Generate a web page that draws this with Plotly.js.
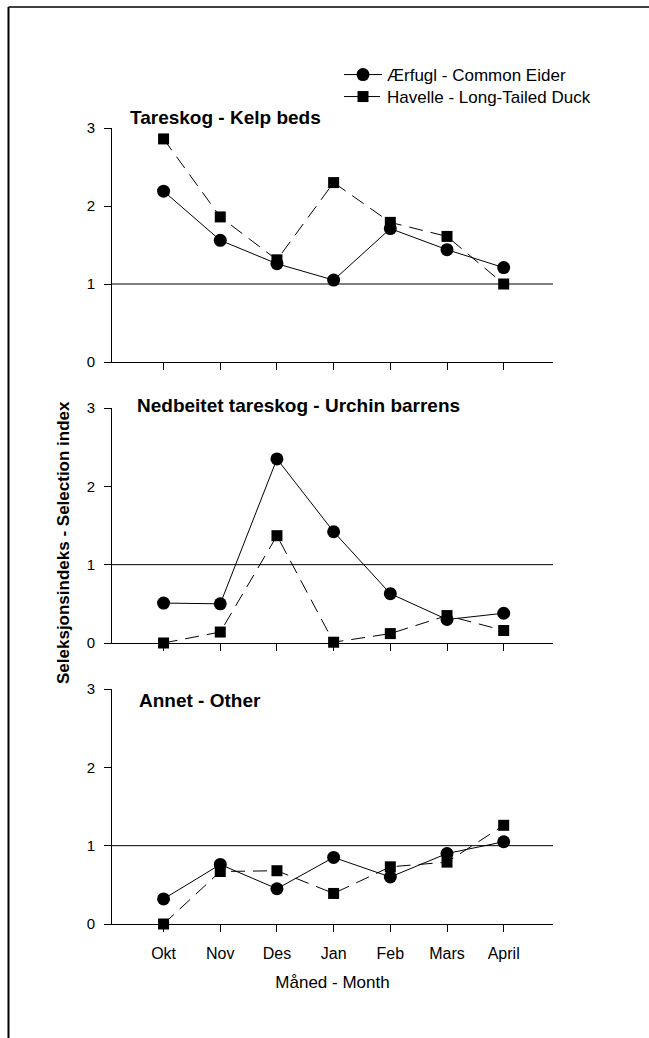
<!DOCTYPE html>
<html>
<head>
<meta charset="utf-8">
<script src="https://cdn.plot.ly/plotly-3.0.1.min.js"></script>
<style>
  html, body { margin: 0; padding: 0; background: #fff; overflow: hidden; }
  #chart { width: 649px; height: 1038px; }
</style>
</head>
<body>
<div id="chart"></div>
<script>
// Months of the survey season
const months = ['Okt', 'Nov', 'Des', 'Jan', 'Feb', 'Mars', 'April'];

// Panel titles (habitat types)
const panelTitles = ['Tareskog - Kelp beds', 'Nedbeitet tareskog - Urchin barrens', 'Annet - Other'];

// Species names
const eiderName = 'Ærfugl - Common Eider';
const duckName = 'Havelle - Long-Tailed Duck';

// Selection index per habitat, Common Eider
const eiderKelp    = [2.19, 1.56, 1.26, 1.05, 1.71, 1.44, 1.21];
const eiderBarrens = [0.51, 0.50, 2.35, 1.42, 0.63, 0.30, 0.38];
const eiderOther   = [0.32, 0.76, 0.45, 0.85, 0.60, 0.90, 1.05];

// Selection index per habitat, Long-Tailed Duck
const duckKelp    = [2.86, 1.86, 1.31, 2.30, 1.79, 1.61, 1.00];
const duckBarrens = [0.00, 0.14, 1.37, 0.01, 0.12, 0.35, 0.16];
const duckOther   = [0.00, 0.67, 0.68, 0.39, 0.73, 0.79, 1.26];

const yTicks = [0, 1, 2, 3];
const axisTitleY = 'Seleksjonsindeks - Selection index';
const axisTitleX = 'Måned - Month';

const FONT = 'Liberation Sans, Arial, sans-serif';
const eiderStyle = {
  mode: 'lines+markers',
  line: { color: '#000', width: 1 },
  marker: { symbol: 'circle', size: 13, color: '#000' },
  cliponaxis: false
};
const duckStyle = {
  mode: 'lines+markers',
  line: { color: '#000', width: 1, dash: '14px,8px' },
  marker: { symbol: 'square', size: 11, color: '#000' },
  cliponaxis: false
};

const eiderSeries = [eiderKelp, eiderBarrens, eiderOther];
const duckSeries = [duckKelp, duckBarrens, duckOther];
const data = [];
for (let i = 0; i < 3; i++) {
  const sfx = i === 0 ? '' : String(i + 1);
  data.push(Object.assign({}, eiderStyle, {
    x: months, y: eiderSeries[i], xaxis: 'x' + sfx, yaxis: 'y' + sfx,
    name: eiderName, showlegend: i === 0, legend: 'legend'
  }));
  data.push(Object.assign({}, duckStyle, {
    x: months, y: duckSeries[i], xaxis: 'x' + sfx, yaxis: 'y' + sfx,
    name: duckName, showlegend: i === 0, legend: 'legend2'
  }));
}

// Plot area: left 112, right 553, top 128, bottom 924 (pixels)
const L = 112, R = 96, T = 128, B = 114, W = 649, H = 1038;
const pw = W - L - R, ph = H - T - B;
const px = v => (v - L) / pw;
const py = v => (H - B - v) / ph;

const domains = [[py(362), 1], [py(643), py(408)], [0, py(689)]];

function xAxis(i) {
  return {
    type: 'category',
    domain: [0, 1],
    anchor: i === 0 ? 'y' : 'y' + (i + 1),
    range: [-0.91, 6.87],
    showline: true, linecolor: '#000', linewidth: 1,
    ticks: 'outside', ticklen: 7, tickwidth: 1, tickcolor: '#000',
    showticklabels: i === 2, ticklabelstandoff: 8,
    tickfont: { family: FONT, size: 16, color: '#000' },
    showgrid: false, zeroline: false,
    title: i === 2 ? { text: axisTitleX, font: { family: FONT, size: 17, color: '#000' }, standoff: 14 } : { text: '' }
  };
}
function yAxis(i) {
  return {
    domain: domains[i],
    anchor: i === 0 ? 'x' : 'x' + (i + 1),
    range: [0, 3],
    tickvals: yTicks,
    showline: true, linecolor: '#000', linewidth: 1,
    ticks: 'outside', ticklen: 7, tickwidth: 1, tickcolor: '#000',
    ticklabelstandoff: 6,
    tickfont: { family: FONT, size: 15, color: '#000' },
    showgrid: false, zeroline: false
  };
}

const shapes = [];
const annotations = [];
const titleX = [128, 135, 137];
const titleY = [117, 405, 700];
for (let i = 0; i < 3; i++) {
  const sfx = i === 0 ? '' : String(i + 1);
  // reference line at index 1
  shapes.push({
    type: 'line', xref: 'x' + sfx + ' domain', yref: 'y' + sfx,
    x0: 0, x1: 1, y0: 1, y1: 1,
    line: { color: '#000', width: 1 }
  });
  annotations.push({
    text: '<b>' + panelTitles[i] + '</b>',
    xref: 'paper', yref: 'paper',
    x: px(titleX[i]), y: py(titleY[i]),
    xanchor: 'left', yanchor: 'middle', showarrow: false,
    font: { family: FONT, size: 19, color: '#000' }
  });
}
// shared y-axis title
annotations.push({
  text: '<b>' + axisTitleY + '</b>',
  xref: 'paper', yref: 'paper',
  x: px(63), y: py(543), textangle: -90,
  xanchor: 'center', yanchor: 'middle', showarrow: false,
  font: { family: FONT, size: 17, color: '#000' }
});
// figure frame (left and top edges)
shapes.push({ type: 'line', xref: 'paper', yref: 'paper',
  x0: px(8.5), x1: px(8.5), y0: py(7), y1: py(1038), line: { color: '#000', width: 2 } });
shapes.push({ type: 'line', xref: 'paper', yref: 'paper',
  x0: px(8.5), x1: px(649), y0: py(7), y1: py(7), line: { color: '#000', width: 1.5 } });

const legendBase = {
  xanchor: 'left', yanchor: 'top',
  bgcolor: 'rgba(0,0,0,0)',
  font: { family: FONT, size: 17, color: '#000' },
  itemwidth: 38
};

const layout = {
  width: W, height: H,
  margin: { l: L, r: R, t: T, b: B },
  paper_bgcolor: '#fff', plot_bgcolor: '#fff',
  font: { family: FONT, color: '#000' },
  showlegend: true,
  legend: Object.assign({}, legendBase, { x: px(339), y: py(57) }),
  legend2: Object.assign({}, legendBase, { x: px(339), y: py(79) }),
  xaxis: xAxis(0), yaxis: yAxis(0),
  xaxis2: xAxis(1), yaxis2: yAxis(1),
  xaxis3: xAxis(2), yaxis3: yAxis(2),
  shapes: shapes,
  annotations: annotations
};

Plotly.newPlot('chart', data, layout, { displayModeBar: false, staticPlot: true });
</script>
</body>
</html>
